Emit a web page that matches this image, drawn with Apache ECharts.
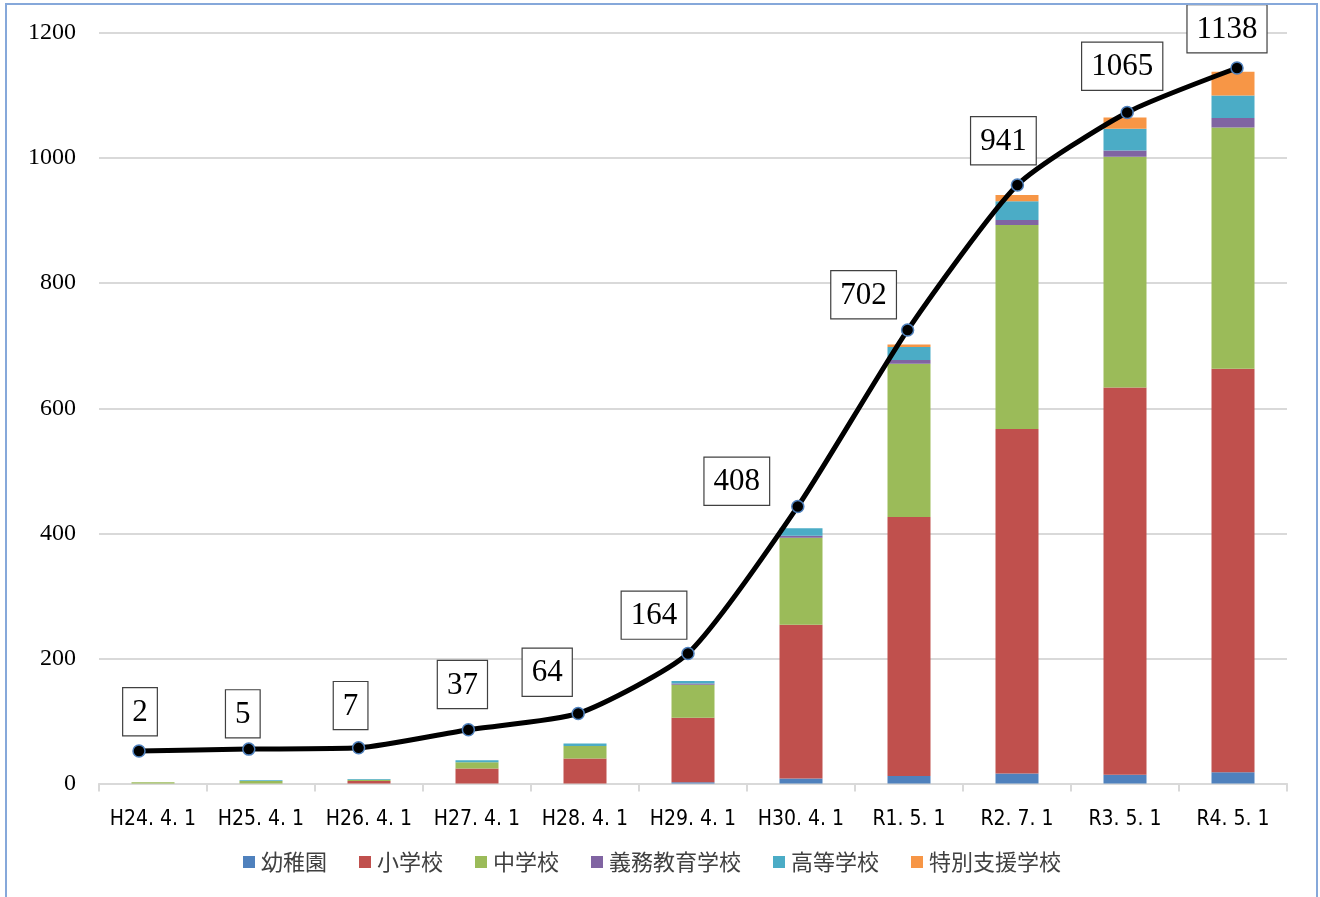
<!DOCTYPE html>
<html>
<head>
<meta charset="utf-8">
<script src="https://cdn.jsdelivr.net/npm/echarts@6/dist/echarts.min.js"></script>
<style>
html,body{margin:0;padding:0;background:#fff;}
#chart{position:absolute;left:0;top:0;width:1320px;height:897px;}
#frame{position:absolute;left:5px;top:3px;width:1309px;height:920px;border:2px solid #86A8DA;pointer-events:none;}
</style>
</head>
<body>
<div id="chart"></div>
<div id="frame"></div>
<script>
// ---- data ----
const categories = ['H24. 4. 1','H25. 4. 1','H26. 4. 1','H27. 4. 1','H28. 4. 1','H29. 4. 1','H30. 4. 1','R1. 5. 1','R2. 7. 1','R3. 5. 1','R4. 5. 1'];
const seriesNames = ['幼稚園','小学校','中学校','義務教育学校','高等学校','特別支援学校'];
const kindergarten = [0,0,0,0,0,2,8,12,16,14,18];
const elementary   = [0,0,4,24,40,103,246,414,551,619,645];
const juniorHigh   = [2,4,2,10,20,53,139,245,326,369,386];
const compulsory   = [0,0,0,0,0,2,3,6,8,10,15];
const highSchool   = [0,1,1,3,4,4,12,21,30,35,36];
const specialNeeds = [0,0,0,0,0,0,0,4,10,18,38];
const totals       = [2,5,7,37,64,164,408,702,941,1065,1138];
const linePositions = [52,55,57,86,112,208,443,725,957,1073,1144];
const yTicks = [0,200,400,600,800,1000,1200];

// ---- style ----
const colors = ['#4F81BD','#C0504D','#9BBB59','#8064A2','#4BACC6','#F79646'];
const labelOffsets = [[1,-9],[-6,-5],[-8,-12],[-6,-15],[-31,-11],[-34,-8],[-61,5],[-44,-5],[-14,-14],[-5,-16],[-10,-9]];

const barData = [kindergarten, elementary, juniorHigh, compulsory, highSchool, specialNeeds];
const gridTop = 33, gridBottom = 113.5;

const chart = echarts.init(document.getElementById('chart'), null, {renderer:'canvas'});
const option = {
  animation: false,
  backgroundColor: '#fff',
  color: colors,
  legend: {
    data: seriesNames,
    left: 238, top: 846,
    itemWidth: 12, itemHeight: 12, itemGap: 32,
    icon: 'rect',
    textStyle: {fontFamily: '"Noto Sans CJK JP"', fontSize: 22, color: '#404040', padding: [0,0,0,1]}
  },
  grid: [
    {left: 99, right: 33, top: gridTop, bottom: gridBottom, containLabel: false},
    {left: 139, right: 83, top: gridTop, bottom: gridBottom, containLabel: false}
  ],
  xAxis: [
    {
      type: 'category', gridIndex: 0, data: categories,
      axisLine: {lineStyle: {color: '#d9d9d9', width: 2}},
      axisTick: {show: true, length: 8, lineStyle: {color: '#d9d9d9', width: 2}},
      axisLabel: {interval: 0, fontFamily: '"Liberation Sans Narrow","DejaVu Sans Condensed",sans-serif', fontSize: 21, color: '#000', margin: 26}
    },
    {
      type: 'category', gridIndex: 1, data: categories, boundaryGap: false, show: false
    }
  ],
  yAxis: [
    {
      type: 'value', gridIndex: 0, min: yTicks[0], max: yTicks[yTicks.length-1], interval: 200,
      axisLine: {show: false}, axisTick: {show: false},
      splitLine: {lineStyle: {color: '#d9d9d9', width: 2}},
      axisLabel: {formatter: v => String(v), fontFamily: '"Liberation Serif",serif', fontSize: 24, color: '#000', margin: 23}
    },
    {
      type: 'value', gridIndex: 1, min: yTicks[0], max: yTicks[yTicks.length-1], show: false
    }
  ],
  series: [
    ...seriesNames.map((n, i) => ({
      name: n, type: 'bar', stack: 'total', xAxisIndex: 0, yAxisIndex: 0,
      barWidth: 43, data: barData[i],
      itemStyle: {color: colors[i]}
    })),
    {
      name: '合計', type: 'line', xAxisIndex: 1, yAxisIndex: 1, z: 5,
      smooth: 0.2,
      data: linePositions.map((v, i) => ({
        value: v,
        label: {offset: labelOffsets[i]}
      })),
      lineStyle: {color: '#000', width: 5},
      symbol: 'circle', symbolSize: 12,
      itemStyle: {color: '#000', borderColor: '#4F81BD', borderWidth: 1.5},
      label: {
        show: true, position: 'top', distance: 0,
        formatter: p => String(totals[p.dataIndex]),
        fontFamily: '"Liberation Serif",serif', fontSize: 31, color: '#000',
        backgroundColor: '#fff', borderColor: '#404040', borderWidth: 1.2,
        padding: [9, 9, 7, 9]
      }
    }
  ]
};
chart.setOption(option);
</script>
</body>
</html>
